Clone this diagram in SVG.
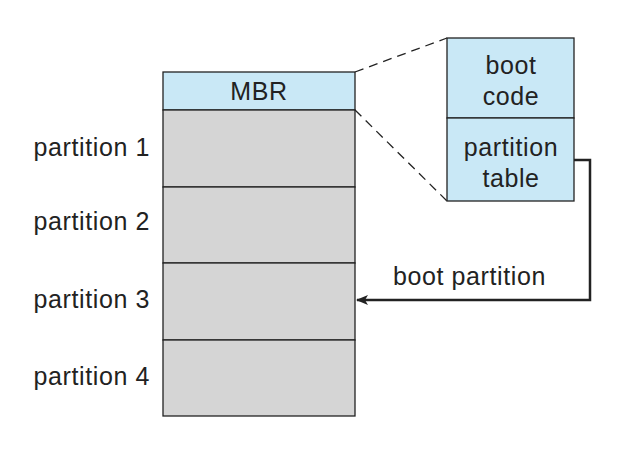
<svg xmlns="http://www.w3.org/2000/svg" width="619" height="453" viewBox="0 0 619 453">
<defs>
<style>
.b{fill:#c9e8f6;stroke:#222;stroke-width:1.3}
.g{fill:#d5d5d5;stroke:#222;stroke-width:1.3}
text{font-family:"Liberation Sans",Arial,sans-serif;font-size:25px;letter-spacing:0.6px;fill:#222}
.c{text-anchor:middle}
.r{text-anchor:end}
</style>
<marker id="ah" markerWidth="12" markerHeight="10" refX="11" refY="5" orient="auto" markerUnits="userSpaceOnUse"><path d="M0,0 L12,5 L0,10 L3,5 Z" fill="#222"/></marker>
</defs>
<rect width="619" height="453" fill="#fff"/>
<g id="disk">
<rect class="b" x="163" y="72" width="192" height="38"/>
<text class="c" x="259" y="100">MBR</text>
<rect id="p1" class="g" x="163" y="110" width="192" height="77"/>
<rect id="p2" class="g" x="163" y="187" width="192" height="76"/>
<rect id="p3" class="g" x="163" y="263" width="192" height="77"/>
<rect id="p4" class="g" x="163" y="340" width="192" height="76"/>
<text class="r" x="150" y="156">partition 1</text>
<text class="r" x="150" y="230">partition 2</text>
<text class="r" x="150" y="308">partition 3</text>
<text class="r" x="150" y="385">partition 4</text>
</g>
<g id="mbr-detail">
<rect class="b" x="447" y="38" width="127" height="80"/>
<text class="c" x="511" y="74">boot</text>
<text class="c" x="511" y="105">code</text>
<rect class="b" x="447" y="118" width="127" height="83"/>
<text class="c" x="511" y="156">partition</text>
<text class="c" x="511" y="187">table</text>
</g>
<g id="connectors" fill="none" stroke="#222">
<line x1="355" y1="72" x2="447" y2="38" stroke-dasharray="9,6" stroke-width="1.3"/>
<line x1="355" y1="110" x2="447" y2="201" stroke-dasharray="9,6" stroke-width="1.3"/>
<polyline points="574,160 590,160 590,300 357,300" stroke-width="2.5" marker-end="url(#ah)"/>
</g>
<text x="393" y="285">boot partition</text>
</svg>
